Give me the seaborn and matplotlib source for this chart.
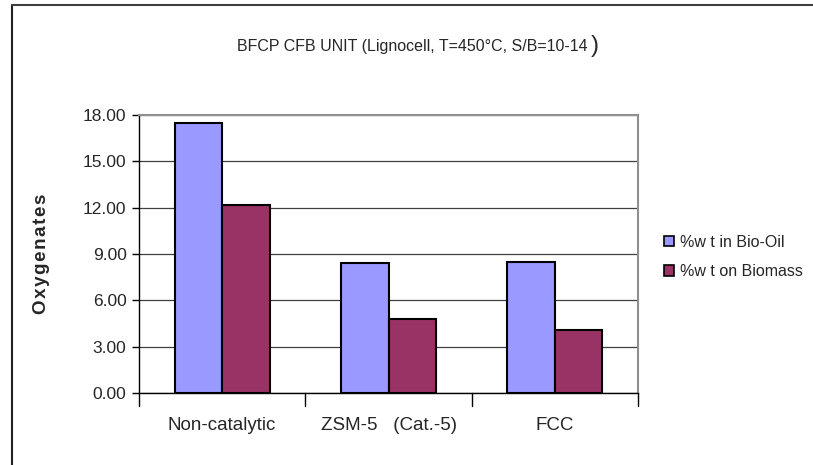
import numpy as np
import pandas as pd
import matplotlib
matplotlib.use("Agg")
import matplotlib.pyplot as plt
from matplotlib.lines import Line2D
from matplotlib.patches import Patch
import seaborn as sns

categories = ["Non-catalytic", "ZSM-5   (Cat.-5)", "FCC"]
series_names = ["%w t in Bio-Oil", "%w t on Biomass"]
bio_oil = [17.5, 8.4, 8.5]
biomass = [12.2, 4.8, 4.05]
y_ticks = [0, 3, 6, 9, 12, 15, 18]
colors = ["#9999FF", "#993366"]

df = pd.DataFrame({
    "cat": categories * 2,
    "series": [series_names[0]] * 3 + [series_names[1]] * 3,
    "value": bio_oil + biomass,
})

sns.set_theme(style="white")
plt.rcParams["font.family"] = ["Liberation Sans", "DejaVu Sans"]

fig = plt.figure(figsize=(8.13, 4.65), dpi=100)
ax = fig.add_axes([139 / 813, 1 - 393 / 465, 499 / 813, 278 / 465])

sns.barplot(data=df, x="cat", y="value", hue="series", palette=colors,
            width=0.57, gap=0, edgecolor="black", linewidth=1.5,
            saturation=1, legend=False, ax=ax, zorder=3)

ax.set_ylim(0, 18)
ax.set_xlim(-0.5, 2.5)
ax.set_yticks(y_ticks)
ax.set_yticklabels([f"{v:.2f}" for v in y_ticks], fontsize=12.5)
ax.yaxis.grid(True, color="#404040", linewidth=0.9, zorder=0)
ax.set_axisbelow(True)

ax.set_xticks([0, 1, 2])
ax.set_xticklabels(categories, fontsize=13.5)
ax.tick_params(axis="x", length=0, pad=17)
ax.tick_params(axis="y", left=True, length=5, width=1, color="black", pad=4)
# category boundary ticks below the axis
for xb in [-0.5, 0.5, 1.5, 2.5]:
    ax.plot([xb, xb], [0, -0.045], transform=ax.get_xaxis_transform(),
            color="black", lw=1, clip_on=False)

ax.set_xlabel("")
ax.set_ylabel("O\u200ax\u200ay\u200ag\u200ae\u200an\u200aa\u200at\u200ae\u200as",
              fontsize=13.5, fontweight="bold", labelpad=24)

for side in ["top", "right"]:
    ax.spines[side].set_color("#909090")
    ax.spines[side].set_linewidth(1.5)
for side in ["left", "bottom"]:
    ax.spines[side].set_color("black")
    ax.spines[side].set_linewidth(1)

title = fig.text(237 / 813, 1 - 47 / 465, "BFCP CFB UNIT (Lignocell, T=450°C, S/B=10-14",
                 fontsize=11.5, ha="left", va="center")
fig.canvas.draw()
bb = title.get_window_extent()
fig.text(bb.x1 / fig.bbox.width + 3 / 813, 1 - 46 / 465, ")", fontsize=17, ha="left", va="center")

handles = [Patch(facecolor=c, edgecolor="black", linewidth=1.2) for c in colors]
fig.legend(handles, series_names, loc="center left", bbox_to_anchor=(650 / 813, 1 - 257 / 465),
           frameon=False, handlelength=0.6, handleheight=0.6,
           handletextpad=0.4, labelspacing=0.9, prop={"family": "Liberation Sans", "size": 11.5})

fig.add_artist(Line2D([12 / 813, 12 / 813], [0, 1 - 5 / 465], transform=fig.transFigure,
                      color="#202020", lw=1.5))
fig.add_artist(Line2D([12 / 813, 1], [1 - 5 / 465, 1 - 5 / 465], transform=fig.transFigure,
                      color="#404040", lw=1.5))

fig.savefig("out.png", dpi=100)
